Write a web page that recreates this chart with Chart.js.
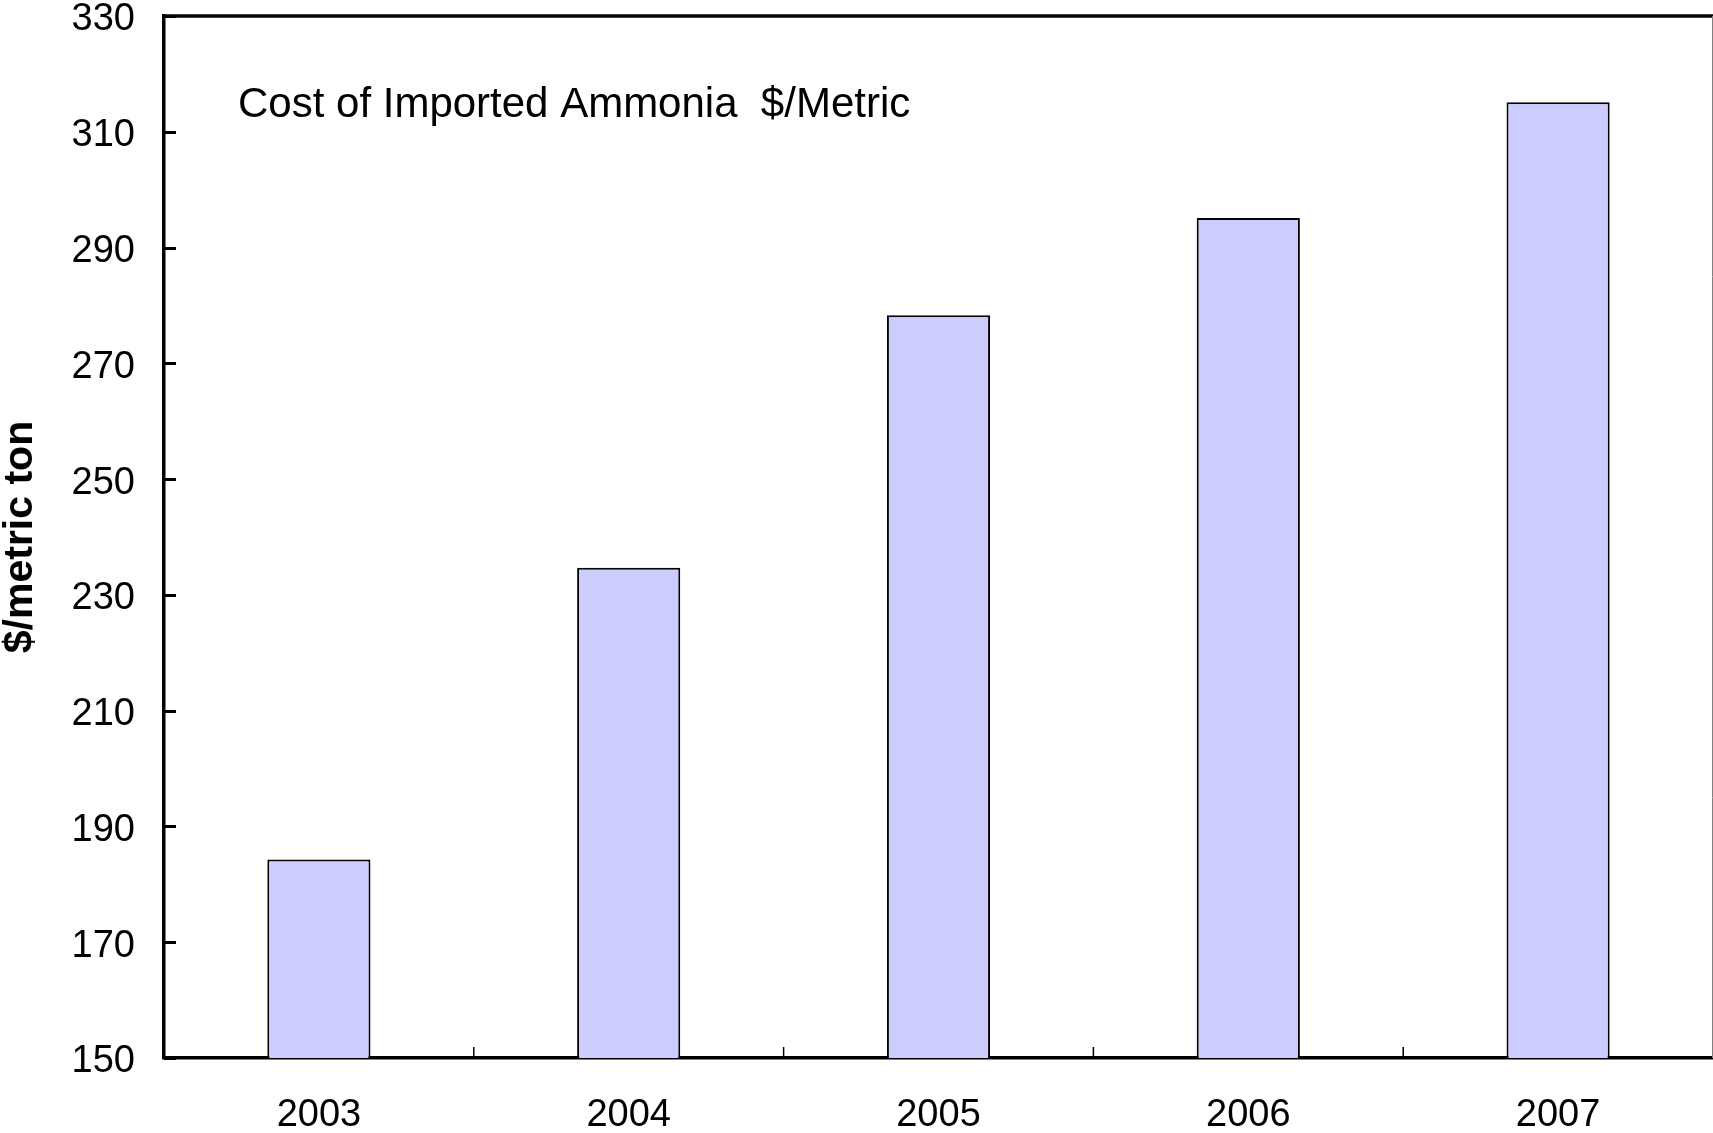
<!DOCTYPE html>
<html>
<head>
<meta charset="utf-8">
<title>Cost of Imported Ammonia</title>
<script src="https://cdn.jsdelivr.net/npm/chart.js@4.4.1/dist/chart.umd.min.js"></script>
<style>
body { margin: 0; background: #fff; }
</style>
</head>
<body>
<canvas id="chart" width="1713" height="1133"></canvas>
<script>
// values
var years = ['2003', '2004', '2005', '2006', '2007'];
var costs = [184.3, 234.7, 278.3, 295.1, 315.1];
var yMin = 150, yMax = 330, yStep = 20;
var noteText = 'Cost of Imported Ammonia  $/Metric';
var axisTitle = '$/metric ton';

var FONT = '"Liberation Sans", Arial, sans-serif';
Chart.defaults.font.family = FONT;
Chart.defaults.color = '#000';

// top/right frame, inward tick marks and the note inside the plot
var framePlugin = {
	id: 'frame',
	afterDraw: function(chart) {
		var ctx = chart.ctx, a = chart.chartArea;
		var x = chart.scales.x, y = chart.scales.y;
		ctx.save();
		ctx.strokeStyle = '#000';
		ctx.lineWidth = 3.5;
		ctx.beginPath();
		ctx.moveTo(a.left - 1.75, a.top);
		ctx.lineTo(chart.width, a.top);
		ctx.stroke();

		ctx.strokeStyle = '#808080';
		ctx.lineWidth = 1;
		ctx.beginPath();
		ctx.moveTo(a.right - 0.5, a.top);
		ctx.lineTo(a.right - 0.5, a.bottom);
		ctx.stroke();

		ctx.strokeStyle = '#000';
		ctx.lineWidth = 3;
		y.ticks.forEach(function(t) {
			var py = Math.round(y.getPixelForValue(t.value)) + 0.5;
			ctx.beginPath();
			ctx.moveTo(a.left, py);
			ctx.lineTo(a.left + 12, py);
			ctx.stroke();
		});

		ctx.lineWidth = 1.5;
		for (var i = 1; i < years.length; i++) {
			var px = (x.getPixelForValue(i - 1) + x.getPixelForValue(i)) / 2;
			ctx.beginPath();
			ctx.moveTo(px, a.bottom);
			ctx.lineTo(px, a.bottom - 11);
			ctx.stroke();
		}

		ctx.fillStyle = '#000';
		ctx.font = '42px ' + FONT;
		ctx.textBaseline = 'middle';
		ctx.textAlign = 'left';
		ctx.fillText(noteText, a.left + 74, a.top + 89);
		ctx.restore();
	}
};

new Chart(document.getElementById('chart'), {
	type: 'bar',
	data: {
		labels: years,
		datasets: [{
			data: costs,
			backgroundColor: '#CCCCFF',
			borderColor: '#000',
			borderWidth: 2,
			barPercentage: 0.333,
			categoryPercentage: 1
		}]
	},
	options: {
		responsive: false,
		animation: false,
		layout: { padding: { top: 16, right: 0, left: 0, bottom: 0 } },
		plugins: { legend: { display: false }, tooltip: { enabled: false } },
		scales: {
			x: {
				grid: { display: false, drawTicks: false },
				border: { display: true, color: '#000', width: 3.5 },
				ticks: { font: { size: 38 }, padding: 35, maxRotation: 0 },
				afterFit: function(s) { s.height = 75; s.paddingLeft = 0; s.paddingRight = 0; }
			},
			y: {
				min: yMin,
				max: yMax,
				grid: { display: false, drawTicks: false },
				border: { display: true, color: '#000', width: 3.5 },
				ticks: { stepSize: yStep, font: { size: 38 }, padding: 29, labelOffset: 4 },
				title: {
					display: true,
					text: axisTitle,
					font: { size: 41, weight: 'bold', lineHeight: 1 },
					padding: 0
				},
				afterFit: function(s) { s.width = 164; s.paddingTop = 0; s.paddingBottom = 0; }
			}
		}
	},
	plugins: [framePlugin]
});
</script>
</body>
</html>
